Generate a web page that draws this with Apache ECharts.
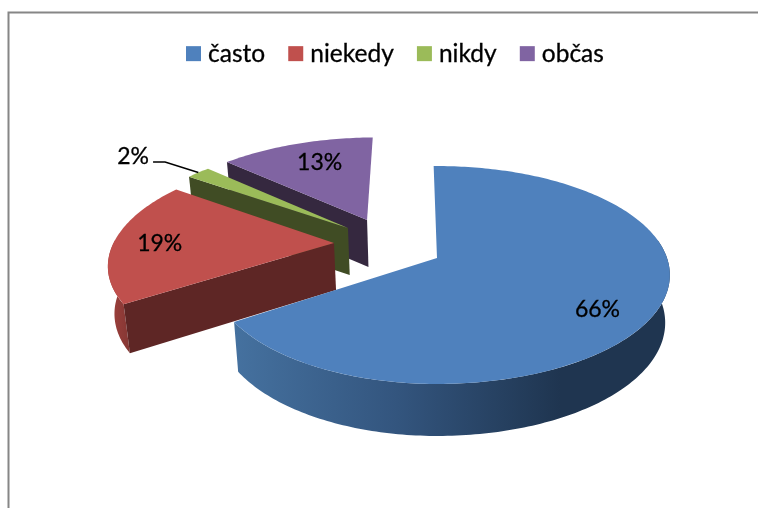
<!DOCTYPE html>
<html>
<head>
<meta charset="utf-8">
<script src="https://cdn.jsdelivr.net/npm/echarts@6/dist/echarts.min.js"></script>
<style>html,body{margin:0;padding:0;background:#fff}#c{width:758px;height:508px}</style>
</head>
<body>
<div id="c"></div>
<script>
const categories = ['často', 'niekedy', 'nikdy', 'občas'];
const values = [66, 19, 2, 13];

const topColors = ['#4f81bd', '#c0504d', '#9bbb59', '#8064a2'];
const edgeColors = [null, '#5e2625', '#404c24', '#35283f'];
// slice offset from the pie centre, in units of the radius
const explode = [[0, 0], [-0.458, -0.144], [-0.405, -0.295], [-0.322, -0.378]];
// horizontal squeeze of the rim on the left of each slice
const leftSqueeze = [0.966, 0.98, 1, 1];
// visible outer wall, in degrees clockwise from the top; null = hidden
const rimVisible = [[80, 360], [0, 272], null, null];
// label: radial fraction and angle shift in degrees
const labelR = [0.79, 0.79, 1.41, 0.726];
const labelShift = [7, -1, -3, 2];
const drawOrder = [3, 2, 1, 0];

const CX = 437, CY = 258, RX = 230, RY = 106.3, PERSP = -0.156, START = -1;
const FONT = 'Lato, Carlito, Calibri, sans-serif';

const total = values.reduce((a, b) => a + b, 0);
const spans = [];
values.reduce((acc, v, i) => {
  spans[i] = [START + acc / total * 360, START + (acc + v) / total * 360];
  return acc + v;
}, 0);

function project(u, v, below) {
  const s = 1 / (1 + PERSP * v);
  let x = RX * u * s, y = RY * v * s;
  if (below) {
    x *= 0.98;
    y += 47 + 5 * Math.max(0, v);
  }
  return [CX + x, CY + y];
}
function rimUV(i, deg, r) {
  const a = deg * Math.PI / 180, e = explode[i];
  const k = r === undefined ? 1 : r;
  const du = k * Math.sin(a);
  return [e[0] + (du < 0 ? du * leftSqueeze[i] : du), e[1] - k * Math.cos(a)];
}
function arc(i, from, to, below) {
  const n = Math.max(4, Math.ceil(Math.abs(to - from)));
  const pts = [];
  for (let k = 0; k <= n; k++) {
    const uv = rimUV(i, from + (to - from) * k / n);
    pts.push(project(uv[0], uv[1], below));
  }
  return pts;
}

function renderSlice(i) {
  const [a0, a1] = spans[i];
  const e = explode[i];
  const apexTop = project(e[0], e[1], false);
  const apexBot = project(e[0], e[1], true);
  const topArc = arc(i, a0, a1, false);
  const botArc = arc(i, a0, a1, true);
  const children = [];
  if (rimVisible[i]) {
    const from = Math.max(a0, rimVisible[i][0]), to = Math.min(a1, rimVisible[i][1]);
    const rimFill = i === 0 ? {
      type: 'linear', global: true, x: 235, y: 0, x2: 560, y2: 0,
      colorStops: [{ offset: 0, color: '#45719f' }, { offset: 0.5, color: '#33557e' }, { offset: 1, color: '#1f3550' }]
    } : {
      type: 'linear', global: true, x: 105, y: 0, x2: 135, y2: 0,
      colorStops: [{ offset: 0, color: '#a5433f' }, { offset: 1, color: '#7d3431' }]
    };
    children.push({
      type: 'polygon',
      shape: { points: arc(i, from, to, false).concat(arc(i, from, to, true).reverse()) },
      style: { fill: rimFill }
    });
  }
  if (edgeColors[i]) {
    children.push({
      type: 'polygon', shape: { points: [topArc[0], apexTop, apexBot, botArc[0]] },
      style: { fill: edgeColors[i] }
    });
  }
  children.push({
    type: 'polygon', shape: { points: [apexTop].concat(topArc) },
    style: { fill: topColors[i] }
  });
  const mid = (a0 + a1) / 2;
  const luv = rimUV(i, mid + labelShift[i], labelR[i]);
  const lp = project(luv[0], luv[1], false);
  if (labelR[i] > 1) {
    const ruv = rimUV(i, mid);
    const rp = project(ruv[0], ruv[1], false);
    children.push({
      type: 'polyline',
      shape: { points: [[lp[0] + 20, lp[1] + 5], [lp[0] + 32, lp[1] + 5], rp] },
      style: { fill: null, stroke: '#000', lineWidth: 1.5 }
    });
  }
  children.push({
    type: 'text', x: lp[0] + (i === 3 ? 1 : 0), y: lp[1], z2: 10,
    style: {
      text: Math.round(values[i] / total * 100) + '%',
      fill: '#000', stroke: '#000', lineWidth: 0.3,
      font: '23px ' + FONT, align: 'center', verticalAlign: 'middle'
    }
  });
  return { type: 'group', children };
}

const series = categories.map((name, i) => ({
  name,
  type: 'custom',
  coordinateSystem: 'none',
  silent: true,
  animation: false,
  clip: false,
  z: 2 + drawOrder.indexOf(i),
  itemStyle: { color: topColors[i] },
  data: [[values[i]]],
  renderItem: () => renderSlice(i)
}));

const chart = echarts.init(document.getElementById('c'), null, { renderer: 'canvas' });
chart.setOption({
  animation: false,
  backgroundColor: '#ffffff',
  color: topColors,
  legend: {
    data: categories,
    left: 181,
    top: 36,
    icon: 'rect',
    itemWidth: 15,
    itemHeight: 15,
    itemGap: 23,
    selectedMode: false,
    textStyle: {
      fontFamily: FONT, fontSize: 24.5, color: '#000', padding: [0, 0, 0, 2],
      textBorderColor: '#000', textBorderWidth: 0.3
    }
  },
  graphic: [{
    type: 'polyline',
    shape: { points: [[8.5, 508], [8.5, 12.5], [758, 12.5]] },
    style: { fill: null, stroke: '#868686', lineWidth: 2 }
  }],
  series
});
</script>
</body>
</html>
